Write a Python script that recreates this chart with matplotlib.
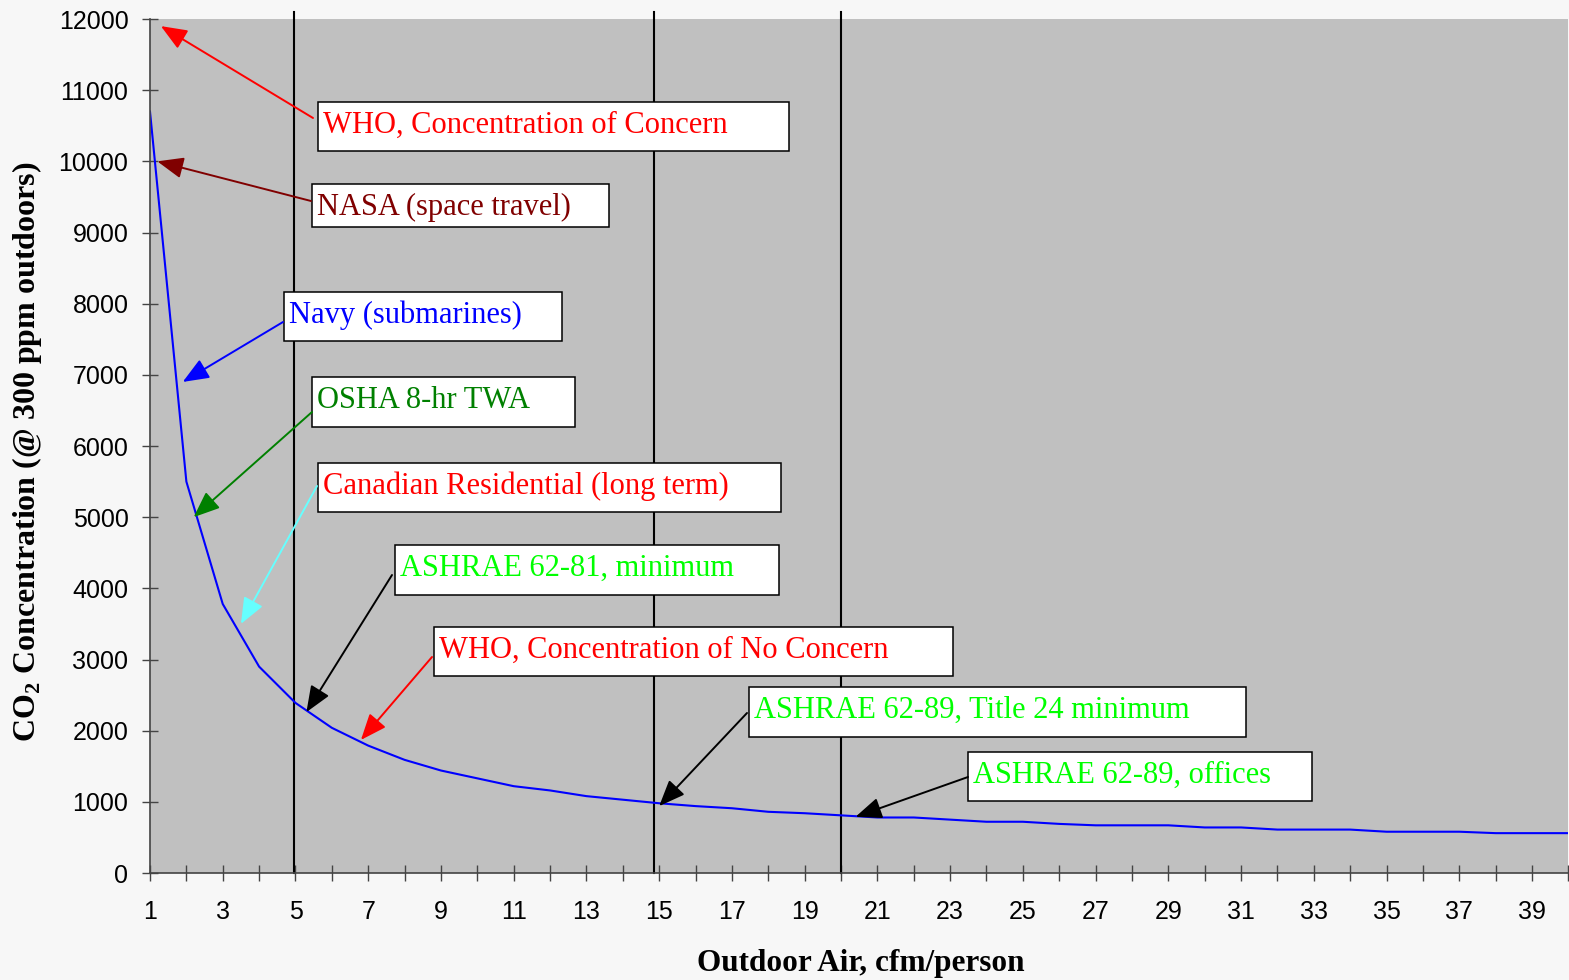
import matplotlib
matplotlib.use("Agg")
import matplotlib.pyplot as plt
from matplotlib.patches import Rectangle

W, H, DPI = 1569, 980, 100

# outdoor air supply, cfm/person (category axis)
cfm = list(range(1, 41))
# resulting indoor CO2, ppm (300 ppm outdoors)
co2_ppm = [10700, 5500, 3780, 2900, 2390, 2040, 1790, 1590, 1440, 1330,
           1220, 1160, 1080, 1030, 980, 940, 910, 860, 840, 810,
           780, 780, 750, 720, 720, 690, 670, 670, 670, 640,
           640, 610, 610, 610, 580, 580, 580, 560, 560, 560]

# vertical reference lines (cfm/person)
ref_cfm = [4.96, 14.85, 20.0]

# callouts: text, text colour, arrow colour, arrow tip (cfm, ppm)
labels = ["WHO, Concentration of Concern",
          "NASA (space travel)",
          "Navy (submarines)",
          "OSHA 8-hr TWA",
          "Canadian Residential (long term)",
          "ASHRAE 62-81, minimum",
          "WHO, Concentration of No Concern",
          "ASHRAE 62-89, Title 24 minimum",
          "ASHRAE 62-89, offices"]
text_colors = ["#ff0000", "#800000", "#0000ff", "#008000", "#ff0000",
               "#00ff00", "#ff0000", "#00ff00", "#00ff00"]
arrow_colors = ["#ff0000", "#800000", "#0000ff", "#008000", "#66ffff",
                "#000000", "#ff0000", "#000000", "#000000"]
tip_cfm = [1.3, 1.2, 1.9, 2.2, 3.5, 5.3, 6.8, 15.0, 20.4]
tip_ppm = [11900, 10000, 6900, 5000, 3500, 2260, 1870, 940, 790]

# layout (pixels from top-left): box (left, top, right, bottom), arrow tail
box_px = [(318, 102, 789, 151), (312, 184, 609, 227), (284, 292, 562, 341),
          (312, 377, 575, 427), (318, 463, 781, 512), (395, 545, 779, 595),
          (434, 627, 953, 676), (749, 687, 1246, 737), (968, 752, 1312, 801)]
tail_px = [(313, 118), (311, 201), (283, 322), (312, 412), (317, 486),
           (392, 575), (432, 657), (747, 713), (968, 777)]


def ff(x, y):
    # pixel (from top-left) -> figure fraction
    return x / W, 1 - y / H


plt.rcParams['mathtext.fontset'] = 'custom'
plt.rcParams['mathtext.rm'] = 'Liberation Serif'
plt.rcParams['mathtext.bf'] = 'Liberation Serif:bold'

fig = plt.figure(figsize=(W / DPI, H / DPI), dpi=DPI, facecolor='#f7f7f7')
ax = fig.add_axes([150 / W, 1 - 873 / H, 1418.4 / W, 854 / H])
ax.set_facecolor('#c0c0c0')

ax.plot(cfm, co2_ppm, color='#0000ff', lw=1.5, zorder=3)

for xv in ref_cfm:
    ax.plot([xv, xv], [0, 12100], color='black', lw=1.5, clip_on=False, zorder=2)

ax.set_xlim(1, 40)
ax.set_ylim(0, 12000)
ax.set_yticks(range(0, 12001, 1000))
ax.set_xticks(cfm)
ax.set_xticklabels([str(c) if c % 2 == 1 else '' for c in cfm])

for sp in ['top', 'right']:
    ax.spines[sp].set_visible(False)
for sp in ['left', 'bottom']:
    ax.spines[sp].set_color('#444444')
    ax.spines[sp].set_linewidth(1.2)
    ax.spines[sp].set_zorder(5)

ax.tick_params(axis='both', direction='inout', length=11, width=1, color='#444444',
               labelsize=18)
ax.tick_params(axis='y', pad=10)
ax.tick_params(axis='x', pad=14)
for lab in ax.get_xticklabels() + ax.get_yticklabels():
    lab.set_family('Liberation Sans')

# callout boxes, text and arrows
for i, txt in enumerate(labels):
    l, t, r, b = box_px[i]
    x0, y0 = ff(l, b)
    rect = Rectangle((x0, y0), (r - l) / W, (b - t) / H, transform=fig.transFigure,
                     facecolor='white', edgecolor='black', lw=1.1, clip_on=False, zorder=6)
    ax.add_patch(rect)
    tx, ty = ff(l + 5, t + 31)
    ax.text(tx, ty, txt, transform=fig.transFigure, color=text_colors[i],
            fontsize=22, family='Liberation Serif', ha='left', va='baseline', zorder=7)
    ax.annotate('', xy=(tip_cfm[i], tip_ppm[i]), xycoords='data',
                xytext=ff(*tail_px[i]), textcoords='figure fraction',
                arrowprops=dict(arrowstyle='-|>,head_length=1.6,head_width=0.65',
                                mutation_scale=10, color=arrow_colors[i], lw=1.4,
                                shrinkA=0, shrinkB=0),
                annotation_clip=False, zorder=8)

# axis titles
fig.text(*ff(861, 963), 'Outdoor Air, cfm/person', ha='center', va='center',
         fontsize=22.5, fontweight='bold', family='Liberation Serif')
fig.text(*ff(27, 452), r'CO$_\mathbf{2}$ Concentration (@ 300 ppm outdoors)',
         ha='center', va='center', rotation=90,
         fontsize=23, fontweight='bold', family='Liberation Serif')

fig.savefig('out.png', dpi=DPI, facecolor=fig.get_facecolor())
